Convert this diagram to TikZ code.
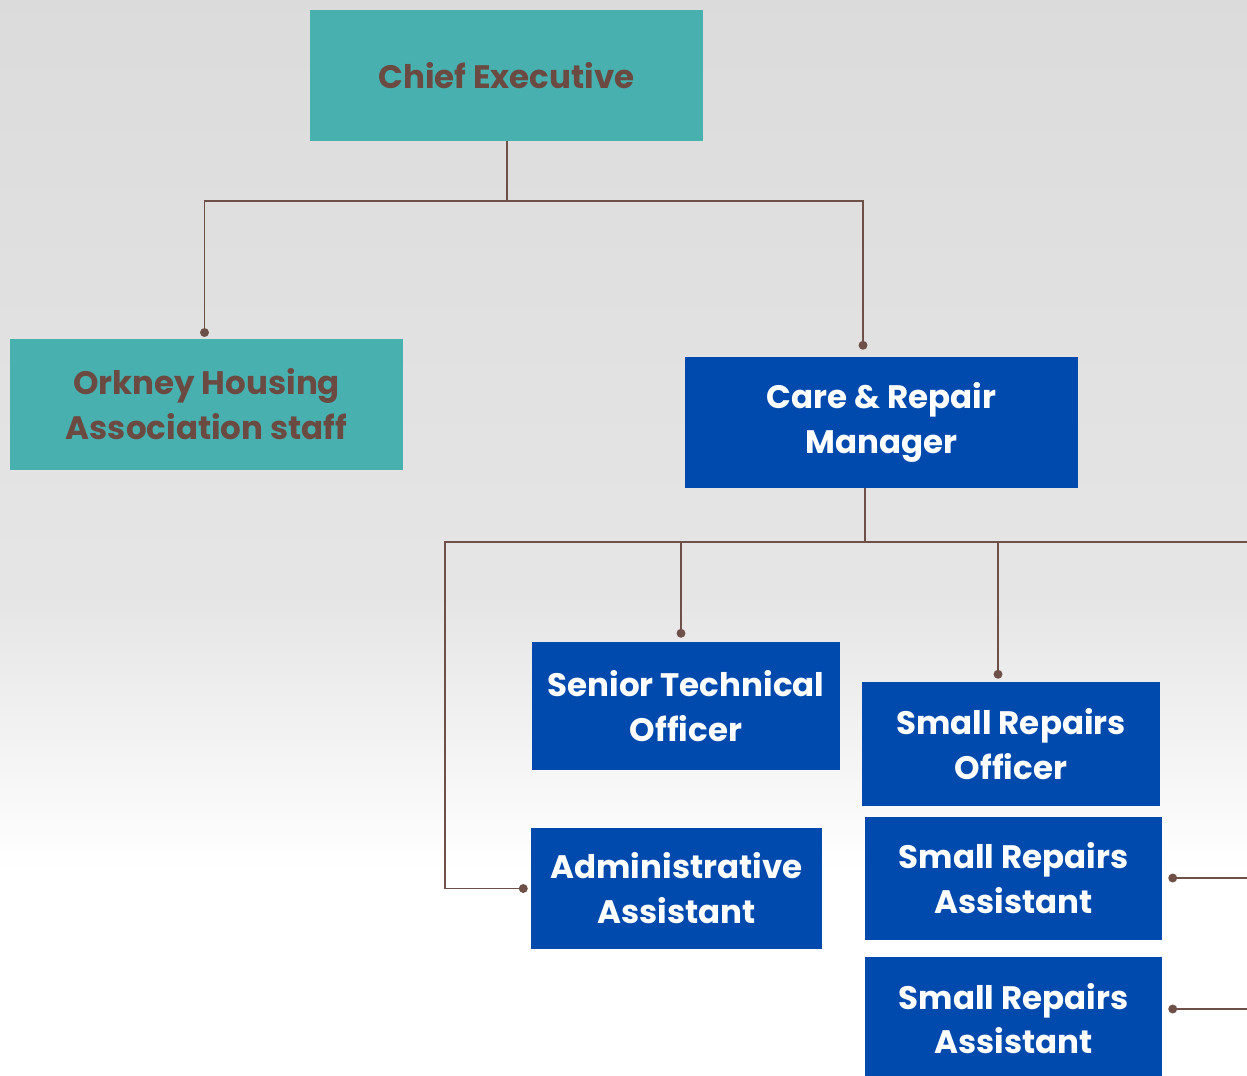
\documentclass[tikz,border=0pt]{standalone}
\usepackage{fontspec}
\setmainfont{Poppins}
\usetikzlibrary{arrows.meta}
\definecolor{ohateal}{HTML}{48B1B0}
\definecolor{crblue}{HTML}{004AAD}
\definecolor{namebrown}{HTML}{6B4A42}
\definecolor{linkbrown}{HTML}{6E5048}
\tikzstyle{tealbox} = [fill=ohateal, text=namebrown, inner sep=0pt, align=center, font=\bfseries\fontsize{18.5}{25.5}\selectfont]
\tikzstyle{bluebox} = [fill=crblue, text=white, inner sep=0pt, align=center, font=\bfseries\fontsize{18.5}{25.5}\selectfont]
\tikzstyle{line} = [draw=linkbrown, line width=1.1pt]
\tikzstyle{link} = [line, -{Circle[length=5pt]}]

\begin{document}
\begin{tikzpicture}[x=0.02cm, y=-0.02cm]
            \useasboundingbox (0,0) rectangle (1247,1075);
            \shade[top color=black!14, bottom color=black!10] (0,0) rectangle (1247,600);
            \shade[top color=black!10, bottom color=white] (0,600) rectangle (1247,870);
            \fill[white] (0,870) rectangle (1247,1075);

            \node[tealbox, minimum width=7.86cm, minimum height=2.62cm] (ce) at (506.5,75.5) {Chief Executive};
            \node[tealbox, minimum width=7.86cm, minimum height=2.62cm] (oha) at (206.5,404.5) {Orkney Housing\\Association staff};
            \node[bluebox, minimum width=7.86cm, minimum height=2.62cm] (crm) at (881.5,422.5) {Care \& Repair\\Manager};
            \node[bluebox, minimum width=6.16cm, minimum height=2.56cm] (sto) at (686,706) {Senior Technical\\Officer};
            \node[bluebox, minimum width=5.96cm, minimum height=2.48cm] (sro) at (1011,744) {Small Repairs\\Officer};
            \node[bluebox, minimum width=5.82cm, minimum height=2.42cm] (aa) at (676.5,888.5) {Administrative\\Assistant};
            \node[bluebox, minimum width=5.94cm, minimum height=2.46cm] (sra1) at (1013.5,878.5) {Small Repairs\\Assistant};
            \node[bluebox, minimum width=5.94cm, minimum height=2.46cm] (sra2) at (1013.5,1018.5) {Small Repairs\\Assistant};

            \coordinate (top) at (507,201);
            \coordinate (mid) at (865,542);
            \coordinate (hl) at (445,542);
            \coordinate (hr) at (1247,542);
            \coordinate (e1) at (1247,878);
            \coordinate (e2) at (1247,1009);

            \draw[line] (ce.south -| top) -- (top);
            \draw[link, shorten >=1pt] (top) -| ([xshift=-0.04cm]oha.north);
            \draw[link, shorten >=0.14cm] (top) -| ([xshift=-0.37cm]crm.north);
            \draw[line] (crm.south -| mid) -- (mid);
            \draw[line] (mid) -- (hr);
            \draw[link, shorten >=0.08cm] (mid) -| ([xshift=-0.1cm]sto.north);
            \draw[link, shorten >=0.06cm] (mid) -| ([xshift=-0.26cm]sro.north);
            \draw[link, shorten >=0.06cm] (mid) -| (hl) |- (aa.west);
            \draw[link, shorten >=0.12cm] (e1) -- (e1 -| sra1.east);
            \draw[link, shorten >=0.12cm] (e2) -- (e2 -| sra2.east);
        \end{tikzpicture}
\end{document}
